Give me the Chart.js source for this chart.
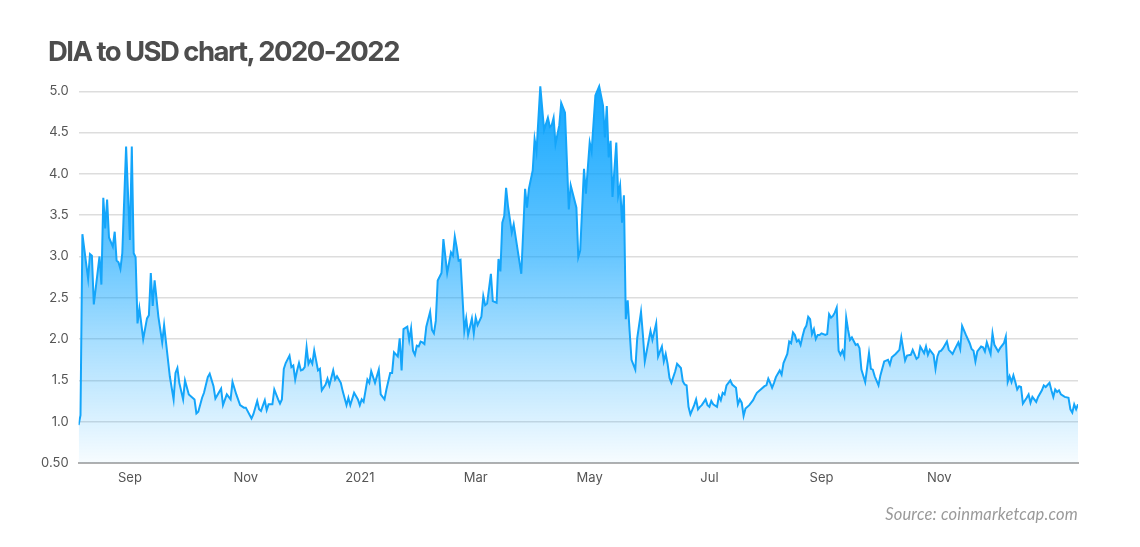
<!DOCTYPE html>
<html>
<head>
<meta charset="utf-8">
<script src="https://cdn.jsdelivr.net/npm/chart.js@4.4.1/dist/chart.umd.min.js"></script>
<style>
  html, body { margin: 0; padding: 0; background: #ffffff; }
  #wrap { position: relative; width: 1140px; height: 547px; overflow: hidden; }
  #title { position: absolute; left: 48px; top: 37px; margin: 0; font-family: Inter, "Noto Sans", sans-serif; font-weight: 700; font-size: 27.5px; line-height: 28px; letter-spacing: -1.55px; color: #4d4d4d; white-space: nowrap; }
  #source { position: absolute; right: 62px; top: 505px; font-family: Lato, "Open Sans", sans-serif; font-style: italic; font-size: 16.5px; line-height: 18px; color: #9a9a9a; white-space: nowrap; letter-spacing: 0.2px; }
  canvas { position: absolute; left: 0; top: 0; }
</style>
</head>
<body>
<div id="wrap">
  <canvas id="c" width="1140" height="547"></canvas>
  <h1 id="title">DIA to USD chart, 2020-2022</h1>
  <div id="source">Source: coinmarketcap.com</div>
</div>
<script>
// Day offsets from 6 Aug 2020 and DIA price in USD
const days = [0,1,2,5,6,7,8,11,12,13,14,15,16,18,19,20,21,22,23,25,27,28,29,30,31,32,34,36,37,38,39,40,42,44,45,48,50,51,52,53,55,56,58,61,62,63,65,66,68,69,71,72,75,76,78,80,81,83,85,87,88,91,92,94,95,96,98,99,100,102,103,105,106,107,108,109,111,112,113,114,115,116,117,118,119,120,121,122,123,124,126,127,128,130,131,132,134,135,136,138,139,141,142,143,145,147,148,149,150,152,153,154,156,158,159,161,162,164,165,166,168,169,170,171,173,174,175,176,177,178,179,180,181,182,183,185,186,187,188,189,191,192,194,196,197,198,199,200,201,203,204,205,207,208,209,210,212,213,214,215,217,218,220,221,222,223,224,225,226,228,229,233,235,236,237,239,240,241,243,245,247,248,249,250,251,253,254,256,258,259,262,263,264,266,267,269,270,272,274,276,277,278,279,280,281,283,284,285,286,287,288,289,290,291,293,294,296,297,298,301,302,304,305,307,308,309,310,311,312,314,315,317,318,319,320,321,322,324,325,326,327,328,330,331,332,333,334,336,337,338,339,340,341,343,344,346,347,348,349,350,351,353,355,356,357,359,361,362,363,364,365,366,367,369,370,371,373,374,375,376,377,378,379,380,381,382,383,384,385,386,387,388,389,390,391,393,394,395,396,397,398,399,400,401,402,403,404,405,406,407,409,410,411,412,414,415,416,417,418,419,421,422,424,426,427,428,430,432,433,435,436,438,439,441,442,443,445,446,447,448,450,451,452,453,454,455,457,458,460,461,463,464,465,467,469,470,471,472,473,475,476,477,478,479,480,481,482,484,485,487,488,489,490,491,492,493,494,495,496,497,499,500,501,502,504,505,507,508,509,511,512,513,514,515,516,517,519,521,522,523,524,525,526];
const prices = [0.96,1.08,3.27,2.73,3.03,3.01,2.42,3.00,2.66,3.71,3.34,3.69,3.23,3.12,3.30,2.95,2.93,2.85,3.04,4.33,3.20,4.33,3.04,2.99,2.19,2.37,2.00,2.25,2.29,2.80,2.40,2.71,2.27,1.96,2.17,1.55,1.27,1.59,1.65,1.47,1.27,1.50,1.33,1.27,1.10,1.12,1.29,1.35,1.54,1.58,1.43,1.28,1.40,1.20,1.33,1.27,1.48,1.33,1.20,1.17,1.17,1.04,1.09,1.25,1.15,1.13,1.26,1.14,1.21,1.21,1.39,1.27,1.22,1.27,1.64,1.71,1.80,1.66,1.68,1.51,1.62,1.71,1.62,1.63,1.66,1.90,1.70,1.75,1.70,1.86,1.62,1.64,1.38,1.45,1.52,1.44,1.62,1.51,1.55,1.47,1.37,1.20,1.29,1.20,1.35,1.27,1.20,1.27,1.24,1.51,1.47,1.61,1.47,1.63,1.33,1.27,1.39,1.59,1.59,1.84,1.79,2.01,1.62,2.12,2.15,1.99,2.13,1.86,1.81,1.92,1.91,1.97,1.96,1.94,2.15,2.33,2.11,2.07,2.22,2.71,2.80,3.21,2.80,3.05,3.01,3.24,3.11,2.95,2.96,2.10,2.25,2.05,2.25,2.07,2.26,2.17,2.27,2.52,2.41,2.43,2.79,2.46,2.44,2.97,2.82,3.41,3.49,3.83,3.61,3.29,3.39,2.79,3.82,3.59,3.82,4.04,4.42,4.27,5.06,4.53,4.68,4.57,4.59,4.68,4.36,4.59,4.86,4.74,3.57,3.86,3.59,2.99,3.07,4.06,3.76,4.38,4.27,4.95,5.06,4.83,4.44,4.82,4.20,4.40,3.72,4.38,3.74,3.86,3.41,3.74,2.24,2.47,2.10,1.75,1.63,2.01,2.33,2.05,1.73,2.10,1.99,2.19,1.79,1.91,1.73,1.82,1.70,1.53,1.47,1.61,1.70,1.65,1.49,1.45,1.44,1.18,1.09,1.20,1.27,1.15,1.18,1.20,1.27,1.20,1.18,1.25,1.21,1.18,1.31,1.26,1.35,1.33,1.44,1.50,1.45,1.41,1.21,1.27,1.23,1.07,1.16,1.20,1.26,1.31,1.35,1.39,1.43,1.44,1.52,1.47,1.41,1.47,1.54,1.62,1.57,1.71,1.82,1.97,1.95,2.08,2.05,1.97,1.99,1.93,2.03,2.12,2.16,2.27,2.24,2.06,2.12,2.00,2.05,2.05,2.07,2.05,2.06,2.30,2.26,2.28,2.32,2.38,1.86,1.81,1.86,1.79,2.26,2.11,1.99,2.02,1.93,1.94,1.89,1.63,1.48,1.65,1.83,1.64,1.63,1.55,1.44,1.56,1.73,1.75,1.69,1.78,1.82,1.87,2.02,1.74,1.80,1.81,1.87,1.76,1.78,1.91,1.83,1.91,1.81,1.87,1.81,1.64,1.79,1.85,1.86,1.89,1.97,1.87,1.82,1.87,1.96,1.88,2.16,2.05,1.95,1.88,1.86,1.73,1.85,1.91,1.90,1.85,1.96,1.89,1.82,2.07,1.93,1.85,1.89,1.95,2.03,1.48,1.55,1.48,1.56,1.48,1.39,1.43,1.42,1.22,1.29,1.33,1.23,1.30,1.24,1.30,1.38,1.44,1.42,1.47,1.38,1.30,1.39,1.36,1.38,1.33,1.30,1.29,1.15,1.11,1.21,1.15,1.21];

// X tick positions (days from 6 Aug 2020) and their labels
const xTickDays = [27, 88, 148, 209, 269, 332, 391, 453];
const xTickLabels = ['Sep', 'Nov', '2021', 'Mar', 'May', 'Jul', 'Sep', 'Nov'];

// Y ticks and their labels
const yTickValues = [0.5, 1.0, 1.5, 2.0, 2.5, 3.0, 3.5, 4.0, 4.5, 5.0];
const yTickLabels = ['0.50', '1.0', '1.5', '2.0', '2.5', '3.0', '3.5', '4.0', '4.5', '5.0'];

const points = days.map((d, i) => ({ x: d, y: prices[i] }));

function fillGradient(context) {
  const chart = context.chart;
  const area = chart.chartArea;
  if (!area) return 'rgba(0,160,255,0.3)';
  const g = chart.ctx.createLinearGradient(0, area.top, 0, area.bottom);
  g.addColorStop(0, 'rgba(0,160,255,0.93)');
  g.addColorStop(0.45, 'rgba(0,160,255,0.60)');
  g.addColorStop(0.68, 'rgba(0,160,255,0.34)');
  g.addColorStop(0.89, 'rgba(0,160,255,0.14)');
  g.addColorStop(1, 'rgba(0,160,255,0.03)');
  return g;
}

const tickFont = { family: 'Inter, "Noto Sans", sans-serif', size: 13 };

new Chart(document.getElementById('c'), {
  type: 'line',
  data: {
    datasets: [{
      data: points,
      borderColor: 'rgb(20,165,250)',
      borderWidth: 2,
      pointRadius: 0,
      tension: 0,
      fill: 'start',
      backgroundColor: fillGradient
    }]
  },
  options: {
    responsive: false,
    animation: false,
    events: [],
    layout: { padding: { left: 38.6, right: 62, top: 83, bottom: 54 } },
    plugins: { legend: { display: false }, tooltip: { enabled: false }, title: { display: false } },
    scales: {
      x: {
        type: 'linear',
        min: 0,
        max: 526,
        afterBuildTicks: (scale) => { scale.ticks = xTickDays.map(v => ({ value: v })); },
        afterFit: (scale) => { scale.height = 30; },
        ticks: {
          autoSkip: false,
          maxRotation: 0,
          padding: 7,
          color: '#555555',
          font: tickFont,
          callback: (value) => {
            const i = xTickDays.indexOf(value);
            return i >= 0 ? xTickLabels[i] : '';
          }
        },
        grid: { display: false, drawTicks: false },
        border: { display: true, color: '#b0b0b0', width: 2 }
      },
      y: {
        min: 0.5,
        max: 5.1,
        afterBuildTicks: (scale) => { scale.ticks = yTickValues.map(v => ({ value: v })); },
        afterFit: (scale) => { scale.width = 40; },
        ticks: {
          padding: 10,
          color: '#555555',
          font: tickFont,
          callback: (value) => {
            const i = yTickValues.findIndex(v => Math.abs(v - value) < 1e-9);
            return i >= 0 ? yTickLabels[i] : '';
          }
        },
        grid: { color: '#dddddd', lineWidth: 1.5, drawTicks: false },
        border: { display: false }
      }
    }
  }
});
</script>
</body>
</html>
